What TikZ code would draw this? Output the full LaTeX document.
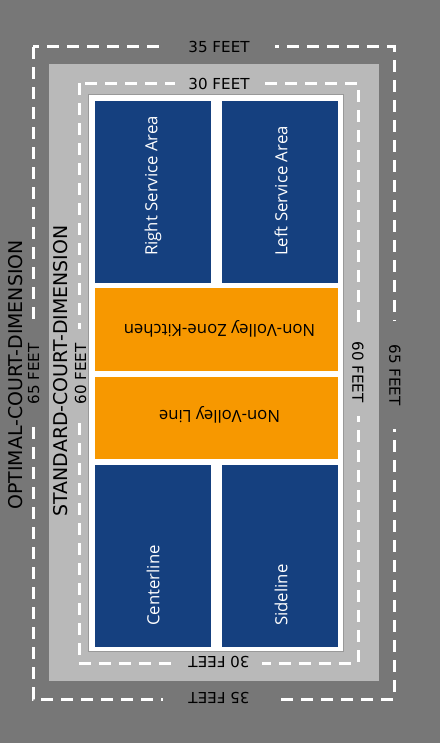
\documentclass[tikz,border=0pt]{standalone}
\usepackage{fontspec}
\setmainfont{Open Sans}
\newfontfamily\dimfont{DejaVu Sans}
\definecolor{bgdark}{HTML}{777777}
\definecolor{bglight}{HTML}{B9B9B9}
\definecolor{courtblue}{HTML}{15407F}
\definecolor{courtorange}{HTML}{F79800}
\begin{document}
\begin{tikzpicture}[x=1bp,y=-1bp,
  dashline/.style={draw=white,line width=3bp,dash pattern=on 12bp off 8bp},
  dimlabel/.style={font=\dimfont\fontsize{15.2}{17}\selectfont,text=black,inner ysep=1bp},
  titlelabel/.style={font=\dimfont\fontsize{19}{21}\selectfont,text=black,inner sep=0pt},
  ondark/.style={dimlabel,fill=bgdark},
  onlight/.style={dimlabel,fill=bglight},
  bluebox/.style={fill=courtblue},
  orangebox/.style={fill=courtorange},
  boxlabel/.style={font=\fontsize{16.8}{18}\selectfont,inner sep=0pt}
]
\useasboundingbox (0,0) rectangle (440,743);
\fill[bgdark] (0,0) rectangle (440,743);
\fill[bglight] (49,64) rectangle (379,681);
\draw[dashline] (33,47) rectangle (394,699);
\draw[dashline] (79,83) rectangle (358,663);
\draw[fill=white,draw=gray!80,line width=0.6bp] (88,94) rectangle (343,651);
% court areas
\fill[bluebox] (95,101) rectangle (211,283);
\fill[bluebox] (222,101) rectangle (338,283);
\fill[orangebox] (95,288) rectangle (338,371);
\fill[orangebox] (95,377) rectangle (338,459);
\fill[bluebox] (95,465) rectangle (211,647);
\fill[bluebox] (222,465) rectangle (338,647);
% area labels
\node[boxlabel,text=white,rotate=90,anchor=west] (rsa) at (153,256) {Right Service Area};
\node[boxlabel,text=white,rotate=90,anchor=west] (lsa) at (281,256) {Left Service Area};
\node[boxlabel,text=black,rotate=180] (nvz) at (219.5,329) {Non-Volley Zone-Kitchen};
\node[boxlabel,text=black,rotate=180] (nvl) at (219.5,415) {Non-Volley Line};
\node[boxlabel,text=white,rotate=90,anchor=west] (cl) at (153,626) {Centerline};
\node[boxlabel,text=white,rotate=90,anchor=west] (sl) at (281,626) {Sideline};
% dimension labels
\node[ondark,inner xsep=25bp] (t35) at (219,47) {35 FEET};
\node[onlight,inner xsep=13bp] (t30) at (219,84) {30 FEET};
\node[onlight,inner xsep=12bp,rotate=180] (b30) at (219,662) {30 FEET};
\node[ondark,inner xsep=25bp,rotate=180] (b35) at (219,698) {35 FEET};
\node[ondark,inner xsep=19bp,rotate=90] (l65) at (33.5,374) {65 FEET};
\node[titlelabel,rotate=90] (opt) at (15.8,375) {OPTIMAL-COURT-DIMENSION};
\node[titlelabel,rotate=90] (std) at (61,371) {STANDARD-COURT-DIMENSION};
\node[onlight,inner xsep=14bp,rotate=90] (l60) at (80.5,374) {60 FEET};
\node[onlight,inner xsep=13bp,rotate=-90] (r60) at (358,372) {60 FEET};
\node[ondark,inner xsep=23bp,rotate=-90] (r65) at (395,375) {65 FEET};
\end{tikzpicture}
\end{document}
